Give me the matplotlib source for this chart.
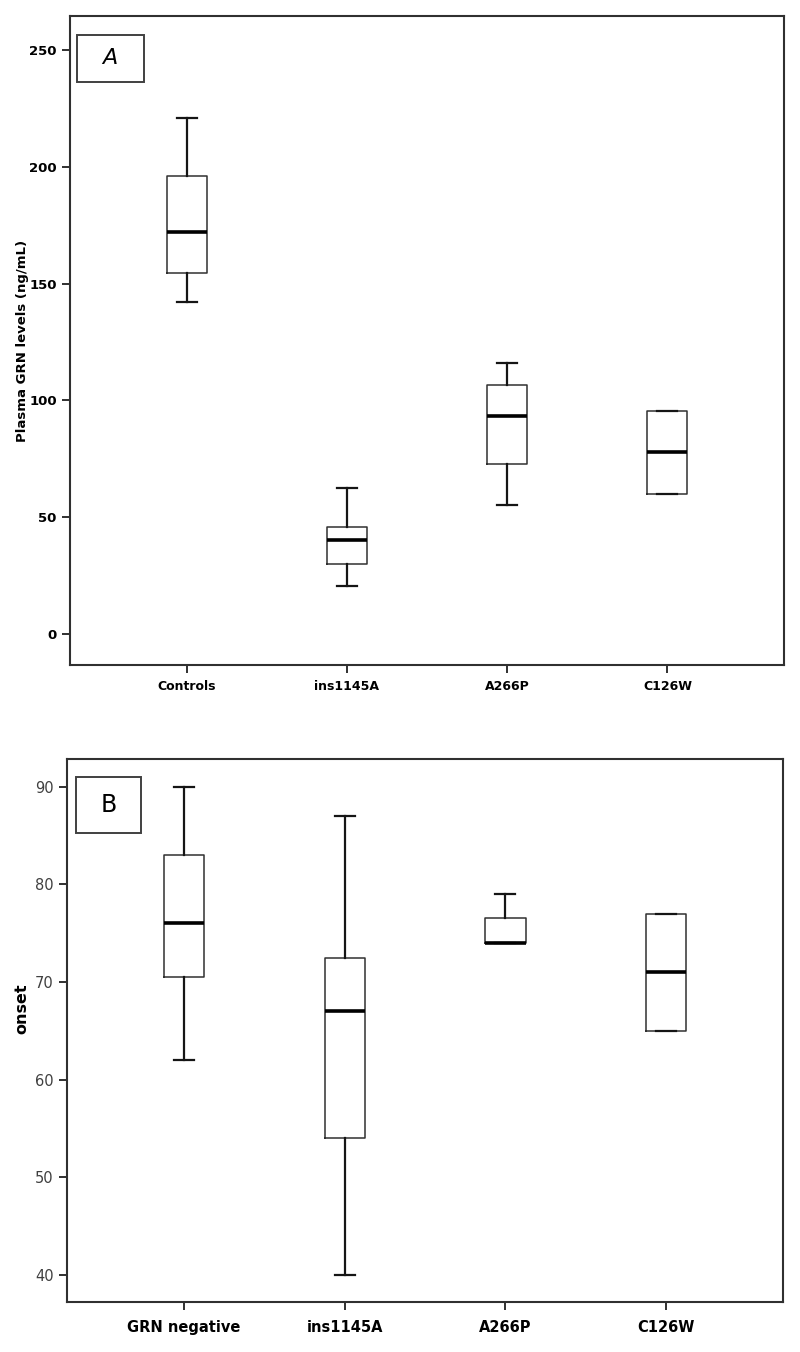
"""GRN plasma levels and age at onset by genotype, two stacked box plots."""

from __future__ import annotations

import matplotlib

matplotlib.use("Agg")
import matplotlib.pyplot as plt
from matplotlib.patches import Rectangle

# panel A: plasma GRN levels (ng/mL)
A_GROUPS = ["Controls", "ins1145A", "A266P", "C126W"]
A_WHISLO = [142, 20.4, 55, 60]
A_Q1 = [154.6, 29.7, 72.9, 60]
A_MED = [172, 40, 93.4, 77.7]
A_Q3 = [196, 45.7, 106.4, 95.4]
A_WHISHI = [220.7, 62.4, 116, 95.4]
A_YTICKS = [0, 50, 100, 150, 200, 250]

# panel B: age at onset
B_GROUPS = ["GRN negative", "ins1145A", "A266P", "C126W"]
B_WHISLO = [62, 40, 74, 65]
B_Q1 = [70.5, 54, 74, 65]
B_MED = [76, 67, 74, 71]
B_Q3 = [83, 72.5, 76.5, 77]
B_WHISHI = [90, 87, 79, 77]
B_YTICKS = [40, 50, 60, 70, 80, 90]


def stats(groups, lo, q1, med, q3, hi):
    return [
        {"label": g, "whislo": a, "q1": b, "med": c, "q3": d, "whishi": e, "fliers": []}
        for g, a, b, c, d, e in zip(groups, lo, q1, med, q3, hi)
    ]


def draw_panel(ax, st, yticks, ylim, ylabel, letter, letter_style, rect, tick_fs, xlab_fs,
               ylab_fs, ytick_kw, xpad):
    ax.bxp(
        st,
        positions=range(len(st)),
        widths=0.25,
        showfliers=False,
        boxprops=dict(color="#303030", linewidth=1.1),
        medianprops=dict(color="black", linewidth=2.6),
        whiskerprops=dict(color="#151515", linewidth=1.6),
        capprops=dict(color="#151515", linewidth=1.6),
    )
    ax.set_xlim(-0.727, 3.727)
    ax.set_ylim(*ylim)
    ax.set_yticks(yticks)
    ax.set_yticklabels([str(t) for t in yticks], fontsize=tick_fs, **ytick_kw)
    ax.set_xticks(range(len(st)))
    ax.set_xticklabels([s["label"] for s in st], fontsize=xlab_fs, fontweight="bold")
    ax.tick_params(axis="both", length=6, width=1.4, color="#303030")
    ax.tick_params(axis="x", pad=xpad)
    for sp in ax.spines.values():
        sp.set_linewidth(1.5)
        sp.set_color("#303030")
    ax.set_ylabel(ylabel, fontsize=ylab_fs, fontweight="bold")
    x0, y0, w, h = rect
    ax.add_patch(Rectangle((x0, y0), w, h, transform=ax.transAxes, fill=False,
                           edgecolor="#404040", linewidth=1.4))
    ax.text(x0 + w / 2, y0 + h / 2, letter, transform=ax.transAxes, ha="center",
            va="center", **letter_style)


def main() -> None:
    fig = plt.figure(figsize=(8, 13.52), dpi=100)
    ax_a = fig.add_axes([0.0875, 0.5081, 0.8925, 0.4801])
    ax_b = fig.add_axes([0.0838, 0.0368, 0.895, 0.4016])

    draw_panel(
        ax_a,
        stats(A_GROUPS, A_WHISLO, A_Q1, A_MED, A_Q3, A_WHISHI),
        A_YTICKS, (-13.4, 264.6), "Plasma GRN levels (ng/mL)", "A",
        dict(fontsize=16, fontstyle="italic"),
        (0.0098, 0.8978, 0.0933, 0.0734),
        tick_fs=9.5, xlab_fs=9, ylab_fs=9.5, ytick_kw=dict(fontweight="bold"), xpad=5,
    )
    ax_a.yaxis.set_label_coords(-0.057, 0.5)
    draw_panel(
        ax_b,
        stats(B_GROUPS, B_WHISLO, B_Q1, B_MED, B_Q3, B_WHISHI),
        B_YTICKS, (37.2, 92.8), "onset", "B",
        dict(fontsize=17),
        (0.0122, 0.8637, 0.0916, 0.1032),
        tick_fs=10.5, xlab_fs=10.5, ylab_fs=11.5, ytick_kw=dict(color="#404040"), xpad=7,
    )
    ax_b.yaxis.set_label_coords(-0.052, 0.54)

    fig.savefig("out.png", dpi=100)
    plt.close(fig)


if __name__ == "__main__":
    main()
